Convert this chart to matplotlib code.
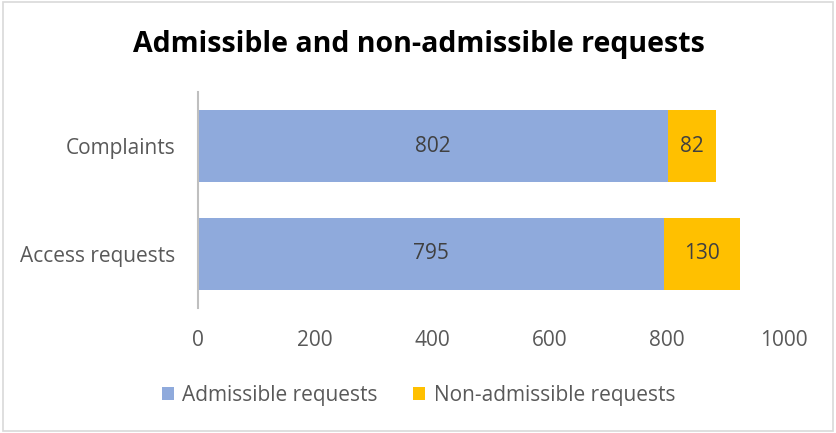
import matplotlib.pyplot as plt
from matplotlib.patches import Rectangle

categories = ["Access requests", "Complaints"]
admissible = [795, 802]
non_admissible = [130, 82]
series_names = ["Admissible requests", "Non-admissible requests"]
xticks = [0, 200, 400, 600, 800, 1000]

blue = "#8FAADC"
gold = "#FFC000"

plt.rcParams["font.family"] = ["Open Sans", "DejaVu Sans"]

fig = plt.figure(figsize=(8.37, 4.33), dpi=100)
ax = fig.add_axes([0.2366, 0.2887, 0.700, 0.4988])

y = range(len(categories))
b1 = ax.barh(y, admissible, height=0.667, color=blue, label=series_names[0])
b2 = ax.barh(y, non_admissible, left=admissible, height=0.667, color=gold, label=series_names[1])

for i in y:
    ax.text(admissible[i] / 2, i, str(admissible[i]), ha="center", va="center",
            fontsize=15, color="#404040")
    ax.text(admissible[i] + non_admissible[i] / 2, i, str(non_admissible[i]),
            ha="center", va="center", fontsize=15, color="#404040")

ax.set_xlim(0, 1000)
ax.set_ylim(-0.5, 1.5)
ax.set_xticks(xticks)
ax.set_xticklabels([str(t) for t in xticks])
ax.set_yticks(list(y))
ax.set_yticklabels(categories)
ax.tick_params(axis="both", length=0, labelsize=15, labelcolor="#595959")
ax.tick_params(axis="x", pad=16)
ax.tick_params(axis="y", pad=16.5)
for s in ["top", "right", "bottom"]:
    ax.spines[s].set_visible(False)
ax.spines["left"].set_color("#BFBFBF")
ax.spines["left"].set_linewidth(1.5)

fig.text(0.5, 0.897, "Admissible and non-admissible requests", ha="center", va="center",
         fontsize=20.5, fontweight="bold", color="black")

fig.legend(handles=[b1, b2], loc="center", bbox_to_anchor=(0.5, 0.087), ncol=2,
           frameon=False, fontsize=15, handlelength=0.58, handleheight=0.58,
           handletextpad=0.4, columnspacing=1.7, labelcolor="#595959")

fig.patches.append(Rectangle((0.003, 0.005), 0.992, 0.99, transform=fig.transFigure,
                             fill=False, edgecolor="#D9D9D9", linewidth=1.2))

fig.savefig("out.png", dpi=100)
